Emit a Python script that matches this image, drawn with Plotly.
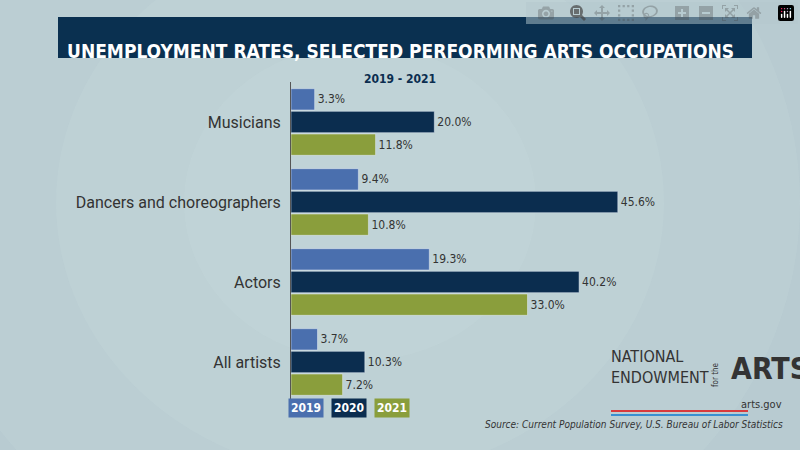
import plotly.graph_objects as go

categories = ["Musicians", "Dancers and choreographers", "Actors", "All artists"]
years = ["2019", "2020", "2021"]
v2019 = [3.3, 9.4, 19.3, 3.7]
v2020 = [20.0, 45.6, 40.2, 10.3]
v2021 = [11.8, 10.8, 33.0, 7.2]
colors = ["#4a6fae", "#0b2d4f", "#8a9e3c"]
NARROW = "DejaVu Sans Condensed, Roboto, sans-serif"

fig = go.Figure()
for yr, vals, c in zip(years, [v2019, v2020, v2021], colors):
    fig.add_trace(go.Bar(y=categories, x=vals, orientation="h", name=yr, marker_color=c,
                         text=[f"{v:.1f}%" for v in vals], textposition="outside",
                         textfont=dict(color="#333333", size=12, family=NARROW),
                         cliponaxis=False))

shapes = []
for r in [0.75, 0.55, 0.38, 0.22]:
    shapes.append(dict(type="circle", xref="paper", yref="paper", layer="below",
                       x0=0.45 - r, x1=0.45 + r, y0=0.55 - r * 1.6, y1=0.55 + r * 1.6,
                       fillcolor="rgba(205,225,228,0.15)", line_width=0))
shapes.append(dict(type="rect", xref="paper", yref="paper", x0=58/800, x1=752/800,
                   y0=1-58/450, y1=1-17/450, fillcolor="#0a3050", line_width=0))
shapes.append(dict(type="line", xref="paper", yref="paper", x0=611/800, x1=748/800,
                   y0=1-411/450, y1=1-411/450, line=dict(color="#d9393c", width=2)))
shapes.append(dict(type="line", xref="paper", yref="paper", x0=611/800, x1=748/800,
                   y0=1-415/450, y1=1-415/450, line=dict(color="#3a8fd1", width=2)))

ann = [
    dict(text="<b>UNEMPLOYMENT RATES, SELECTED PERFORMING ARTS OCCUPATIONS</b>", x=0.5, y=1-37.5/450,
         font=dict(color="white", size=19, family=NARROW)),
    dict(text="<b>2019 - 2021</b>", x=0.5, y=1-70/450, font=dict(color="#0b2d4f", size=12, family=NARROW)),
    dict(text="NATIONAL<br>ENDOWMENT", x=609/800, y=1-389/450, xanchor="left", align="left",
         font=dict(color="#333333", size=16, family=NARROW)),
    dict(text="for the", x=722/800, y=1-389/450, textangle=-90,
         font=dict(color="#333333", size=8, family=NARROW)),
    dict(text="<b>ARTS</b>", x=729/800, y=1-388/450, xanchor="left",
         font=dict(color="#333333", size=30, family=NARROW)),
    dict(text="arts.gov", x=784/800, y=1-413/450, xanchor="right",
         font=dict(color="#333333", size=11, family=NARROW)),
    dict(text="<i>Source: Current Population Survey, U.S. Bureau of Labor Statistics</i>", x=785/800,
         y=1-432/450, xanchor="right", font=dict(color="#333333", size=10, family=NARROW)),
]
for i, (yr, c) in enumerate(zip(years, colors)):
    ann.append(dict(text=f"<b>{yr}</b>", x=(306 + i * 43)/800, y=1-418/450, bgcolor=c,
                    font=dict(color="white", size=12, family=NARROW), borderpad=2))
for a in ann:
    a.setdefault("xref", "paper"); a.setdefault("yref", "paper"); a.setdefault("showarrow", False)

fig.update_layout(
    width=800, height=450, margin=dict(l=0, r=0, t=0, b=0),
    paper_bgcolor="#b4c7ce", plot_bgcolor="rgba(0,0,0,0)",
    barmode="group", bargap=0.15, bargroupgap=0.06, showlegend=False,
    xaxis=dict(domain=[291/800, 721/800], range=[0, 60], visible=False),
    yaxis=dict(domain=[1-402/450, 1-82/450], autorange="reversed",
               tickfont=dict(color="#333333", size=16, family="Roboto, sans-serif"),
               ticks="", showline=True, linecolor="#555555", linewidth=1, showgrid=False, ticklabelstandoff=6),
    shapes=shapes, annotations=ann,
)
fig.write_html("out.html", post_script="document.body.style.margin='0';document.body.style.overflow='hidden';")
